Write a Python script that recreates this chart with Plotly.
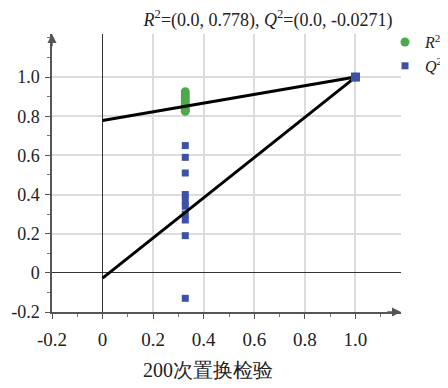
import plotly.graph_objects as go

# ---- data ----
perm_x = [0.327] * 8
r2_perm = [0.925, 0.91, 0.895, 0.88, 0.865, 0.85, 0.835, 0.825]
q2_perm_x = [0.327] * 10
q2_perm = [0.65, 0.59, 0.51, 0.40, 0.37, 0.34, 0.30, 0.27, 0.19, -0.13]
orig_x = [1.0]
r2_orig = [1.0]
q2_orig = [1.0]
r2_intercept = 0.778
q2_intercept = -0.0271
line_x = [0.0, 1.0]

x_ticks = [-0.2, 0, 0.2, 0.4, 0.6, 0.8, 1.0]
x_ticktext = ["-0.2", "0", "0.2", "0.4", "0.6", "0.8", "1.0"]
y_ticks = [-0.2, 0, 0.2, 0.4, 0.6, 0.8, 1.0]
y_ticktext = ["-0.2", "0", "0.2", "0.4", "0.6", "0.8", "1.0"]

GREEN = "#4ea94b"
BLUE = "#3d52a6"
SERIF = "Liberation Serif"

fig = go.Figure()

fig.add_trace(go.Scatter(x=perm_x, y=r2_perm, mode="markers", name="<i>R</i><sup>2</sup>",
                         marker=dict(symbol="circle", size=9, color=GREEN), legendgroup="r2"))
fig.add_trace(go.Scatter(x=q2_perm_x, y=q2_perm, mode="markers", name="<i>Q</i><sup>2</sup>",
                         marker=dict(symbol="square", size=7, color=BLUE), legendgroup="q2"))

fig.add_trace(go.Scatter(x=line_x, y=[r2_intercept, r2_orig[0]], mode="lines",
                         line=dict(color="black", width=3), showlegend=False, hoverinfo="skip"))
fig.add_trace(go.Scatter(x=line_x, y=[q2_intercept, q2_orig[0]], mode="lines",
                         line=dict(color="black", width=3), showlegend=False, hoverinfo="skip"))

fig.add_trace(go.Scatter(x=orig_x, y=r2_orig, mode="markers", showlegend=False, legendgroup="r2",
                         marker=dict(symbol="circle", size=9, color=GREEN)))
fig.add_trace(go.Scatter(x=orig_x, y=q2_orig, mode="markers", showlegend=False, legendgroup="q2",
                         marker=dict(symbol="square", size=9, color=BLUE)))

title = ("<i>R</i><sup>2</sup>=(0.0, %s), <i>Q</i><sup>2</sup>=(0.0, %s)"
         % (format(r2_intercept, "g"), format(q2_intercept, "g")))

axis_common = dict(
    showline=True, linecolor="#555555", linewidth=1.5,
    ticks="outside", ticklen=5, tickcolor="#555555", tickwidth=1,
    showgrid=True, gridcolor="#dcdcdc", gridwidth=1.5,
    zeroline=True, zerolinecolor="#333333", zerolinewidth=1.2,
    minor=dict(ticks="outside", ticklen=3, tickcolor="#777777", dtick=0.1, showgrid=False),
)

fig.update_layout(
    width=440, height=380,
    font=dict(family=SERIF, color="#222222"),
    margin=dict(l=44, r=47, t=26, b=76, autoexpand=False),
    plot_bgcolor="white", paper_bgcolor="white",
    title=dict(text=title, x=0.591, xanchor="center", y=0.97, yanchor="middle",
               font=dict(family=SERIF, size=18, color="#222222")),
    xaxis=dict(range=[-0.2, 1.18], tickvals=x_ticks, ticktext=x_ticktext,
               ticklabelstandoff=4, tickfont=dict(family=SERIF, size=19, color="#222222"),
               **axis_common),
    yaxis=dict(range=[-0.2, 1.22], tickvals=y_ticks, ticktext=y_ticktext,
               ticklabelstandoff=2, tickfont=dict(family=SERIF, size=18, color="#222222"),
               **axis_common),
    legend=dict(xref="container", yref="container", x=1.0, y=0.955,
                xanchor="right", yanchor="top", bgcolor="rgba(0,0,0,0)",
                font=dict(family=SERIF, size=16, color="#222222"),
                itemwidth=30, tracegroupgap=0, borderwidth=0),
    showlegend=True,
)

# axis arrows
fig.add_annotation(x=1.18, y=-0.2, ax=1.12, ay=-0.2, xref="x", yref="y", axref="x", ayref="y",
                   showarrow=True, arrowhead=2, arrowsize=1.2, arrowwidth=1.5,
                   arrowcolor="#555555", text="")
fig.add_annotation(x=-0.2, y=1.22, ax=-0.2, ay=1.15, xref="x", yref="y", axref="x", ayref="y",
                   showarrow=True, arrowhead=2, arrowsize=1.2, arrowwidth=1.5,
                   arrowcolor="#555555", text="")

# x-axis title
fig.add_annotation(text="200次置换检验", x=0.447, y=-0.21, xref="paper", yref="paper",
                   xanchor="center", yanchor="middle", showarrow=False,
                   font=dict(family=SERIF, size=20, color="#222222"))

fig.write_html("out.html")
